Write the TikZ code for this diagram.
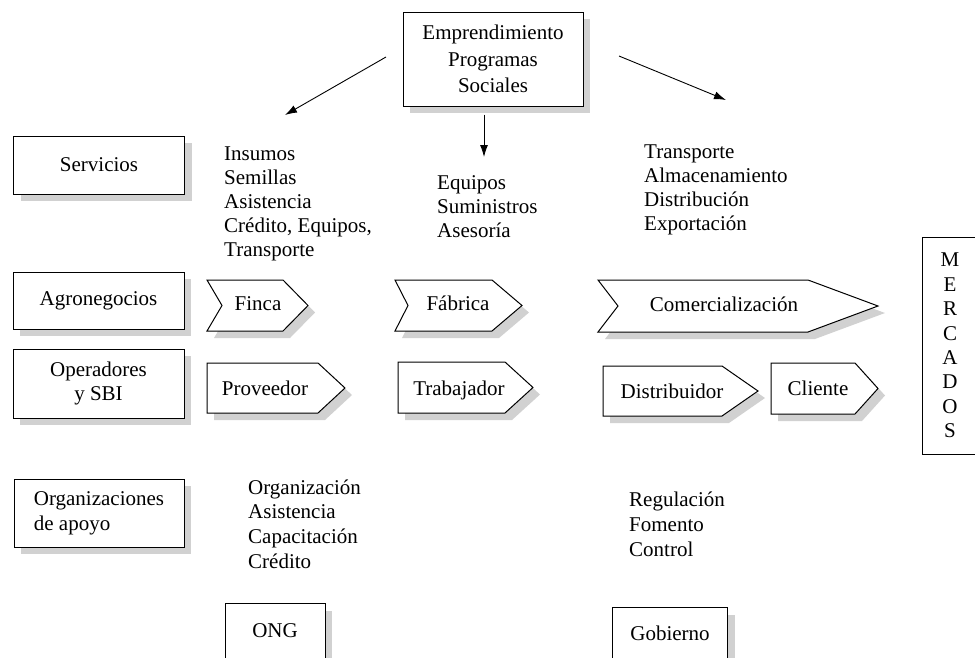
\documentclass[tikz,border=0pt]{standalone}
\usepackage{fontspec}
\setmainfont{Liberation Serif}
\usetikzlibrary{arrows.meta,shadows,calc}
\tikzset{
 shd/.style={drop shadow={shadow xshift=7pt,shadow yshift=-7pt,fill=black!18,opacity=1}},
 plainbox/.style={draw,line width=1pt,fill=white,inner sep=0pt,align=center},
 box/.style={plainbox,shd},
 lst/.style={anchor=north west,inner sep=0pt,align=left},
 lbl/.style={anchor=base,inner sep=0pt},
 arr/.style={line width=0.9pt,-{Latex[length=12pt,width=8pt]}},
 chevbody/.style={draw,line width=1pt,fill=white},
 chevshadow/.style={fill=black!18},
}
% #1 left x, #2 notch x, #3 corner x, #4 tip x, #5 top y, #6 bottom y
\newcommand{\chevshape}[6]{%
 \fill[chevshadow] (#1+7,#5+7) -- (#3+7,#5+7) -- (#4+7,{(#5+#6)/2+7}) -- (#3+7,#6+7) -- (#1+7,#6+7) -- (#2+7,{(#5+#6)/2+7}) -- cycle;
 \filldraw[chevbody] (#1,#5) -- (#3,#5) -- (#4,{(#5+#6)/2}) -- (#3,#6) -- (#1,#6) -- (#2,{(#5+#6)/2}) -- cycle;}
\begin{document}
\begin{tikzpicture}[x=1pt,y=-1pt,font=\fontsize{21}{24.4}\selectfont]
\useasboundingbox (0,0) rectangle (975,657);
\clip (0,0) rectangle (975,657);

% top box
\node[box,minimum width=180pt,minimum height=94pt,font=\fontsize{21}{26.5}\selectfont] (emp) at (493,59) {Emprendimiento\\Programas\\Sociales};

% arrows
\coordinate (a1s) at (386,57);
\coordinate (a1e) at (285,115);
\coordinate (a2e) at (484,157);
\coordinate (a3s) at (619,56);
\coordinate (a3e) at (726,100);
\draw[arr] (a1s) -- (a1e);
\draw[arr] ([yshift=-8pt]emp.south -| a2e) -- (a2e);
\draw[arr] (a3s) -- (a3e);

% left column boxes
\node[box,minimum width=171pt,minimum height=58pt] (serv) at (99,165) {Servicios};
\node[box,minimum width=171pt,minimum height=57pt] (agro) at (98.5,300.5) {Agronegocios};
\node[box,minimum width=171pt,minimum height=69pt] (oper) at (98.5,383.5) {Operadores\\y SBI};
\node[box,minimum width=170pt,minimum height=68pt,align=left,font=\fontsize{21}{25}\selectfont] (orga) at (99,513) {Organizaciones\\de apoyo};

% markets
\node[plainbox,minimum width=56pt,minimum height=217pt] (merc) at (950,345.5) {M\\E\\R\\C\\A\\D\\O\\S};

% bottom boxes
\node[box,anchor=north,minimum width=100pt,text height=34pt,text depth=33pt] (ong) at (275,603) {ONG};
\node[box,anchor=north,minimum width=115pt,text height=33pt,text depth=30pt] (gob) at (670,607) {Gobierno};

% lists
\node[lst,font=\fontsize{21}{24}\selectfont] (l1) at (224,143) {\strut Insumos\\Semillas\\Asistencia\\Crédito, Equipos,\\Transporte};
\node[lst,font=\fontsize{21}{24}\selectfont] (l2) at (437,172) {\strut Equipos\\Suministros\\Asesoría};
\node[lst,font=\fontsize{21}{24}\selectfont] (l3) at (644,141) {\strut Transporte\\Almacenamiento\\Distribución\\Exportación};
\node[lst,font=\fontsize{21}{24.6}\selectfont] (l4) at (248,476.8) {\strut Organización\\Asistencia\\Capacitación\\Crédito};
\node[lst,font=\fontsize{21}{25}\selectfont] (l5) at (629,488.5) {\strut Regulación\\Fomento\\Control};

% chevrons
\chevshape{207}{222}{283}{308}{280}{331}
\chevshape{395}{408}{492}{522}{280}{331}
\chevshape{598}{618}{808}{878}{280}{332}
\chevshape{207}{207}{318}{345}{363}{413}
\chevshape{398}{398}{505}{533}{362}{413}
\chevshape{603}{603}{722}{758}{366}{416}
\chevshape{771}{771}{855}{878}{363}{414}

\node[lbl] (finca) at (258,310) {Finca};
\node[lbl] (fabrica) at (458,310) {Fábrica};
\node[lbl] (comer) at (724,311) {Comercialización};
\node[lbl] (prov) at (265,395) {Proveedor};
\node[lbl] (trab) at (459,395) {Trabajador};
\node[lbl] (dist) at (672,398) {Distribuidor};
\node[lbl] (cli) at (818,395) {Cliente};
\end{tikzpicture}
\end{document}
